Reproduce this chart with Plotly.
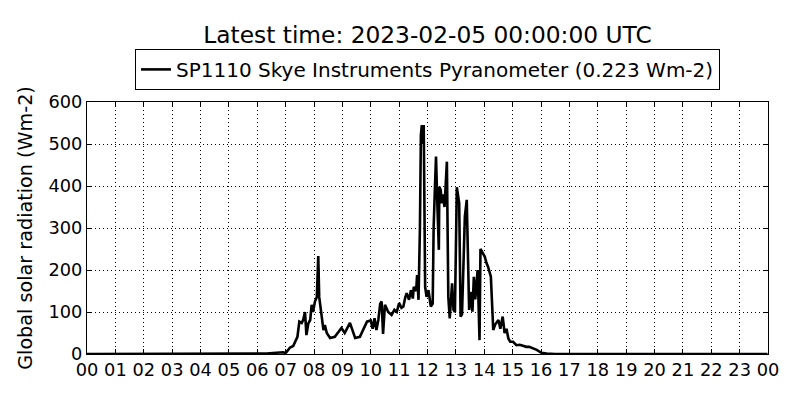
import pandas as pd
import plotly.graph_objects as go

day = "2023-02-04"
times = ["00:00", "03:00", "06:00", "06:20", "06:40", "06:55", "07:00", "07:05", "07:09", "07:16",
         "07:20", "07:25", "07:29", "07:34", "07:37", "07:41", "07:44", "07:48", "07:52", "07:55",
         "07:58", "08:02", "08:06", "08:09", "08:11", "08:15", "08:20", "08:23", "08:27", "08:34",
         "08:44", "08:58", "09:05", "09:16", "09:27", "09:37", "09:52", "10:00", "10:04", "10:08",
         "10:12", "10:16", "10:20", "10:23", "10:26", "10:30", "10:34", "10:37", "10:44", "10:50",
         "10:55", "11:00", "11:05", "11:09", "11:13", "11:16", "11:21", "11:25", "11:29", "11:31",
         "11:36", "11:38", "11:41", "11:44", "11:46", "11:48", "11:50", "11:52", "11:55", "11:58",
         "12:02", "12:07", "12:11", "12:13", "12:16", "12:18", "12:21", "12:24", "12:25", "12:28",
         "12:30", "12:33", "12:36", "12:39", "12:41", "12:44", "12:47", "12:52", "12:55", "12:58",
         "13:02", "13:07", "13:10", "13:13", "13:19", "13:23", "13:28", "13:31", "13:35", "13:38",
         "13:41", "13:46", "13:50", "13:52", "14:01", "14:05", "14:08", "14:14", "14:17", "14:19",
         "14:23", "14:30", "14:34", "14:39", "14:43", "14:47", "14:51", "14:55", "15:01", "15:08",
         "15:15", "15:29", "15:35", "15:51", "16:01", "16:12", "16:30", "23:59"]
values = [0, 0, 0, 1, 3, 4, 2, 8, 15, 19,
          30, 41, 77, 74, 81, 100, 45, 73, 81, 117,
          100, 125, 136, 233, 136, 105, 57, 69, 50, 38,
          41, 62, 50, 74, 38, 41, 77, 80, 60, 85,
          57, 81, 120, 125, 48, 117, 105, 100, 93, 105,
          100, 121, 110, 113, 135, 145, 129, 152, 132, 160,
          150, 188, 129, 300, 521, 545, 500, 545, 160, 136,
          152, 113, 120, 303, 406, 470, 351, 248, 398, 390,
          359, 380, 350, 400, 458, 136, 85, 168, 105, 100,
          397, 359, 89, 95, 327, 367, 105, 148, 101, 184,
          130, 200, 33, 250, 232, 216, 208, 184, 105, 57,
          70, 81, 60, 89, 50, 60, 37, 29, 29, 21,
          22, 17, 17, 10, 3, 1, 0, 0]
series_name = "SP1110 Skye Instruments Pyranometer (0.223 Wm-2)"
title_text = "Latest time: 2023-02-05 00:00:00 UTC"
y_ticks = [0, 100, 200, 300, 400, 500, 600]

x = pd.to_datetime([f"{day} {t}" for t in times])
hour_ticks = pd.date_range("2023-02-04 00:00", "2023-02-05 00:00", freq="h")

fig = go.Figure()
fig.add_trace(go.Scatter(x=x, y=values, mode="lines", name=series_name,
                         line=dict(color="black", width=2.6)))

font_family = "DejaVu Sans"
# page body adds an 8px offset, so the figure is 792x392 and margins are shifted
fig.update_layout(
    width=792, height=392,
    margin=dict(l=79, r=32, t=94, b=46),
    paper_bgcolor="white", plot_bgcolor="white",
    font=dict(family=font_family, size=17.5, color="black"),
    title=dict(text=title_text, xref="paper", x=0.5, xanchor="center", y=0.931, yanchor="middle",
               font=dict(size=23.3, family=font_family)),
    showlegend=True,
    legend=dict(x=0.5, xanchor="center", y=1.048, yanchor="bottom",
                bordercolor="black", borderwidth=1, bgcolor="white",
                font=dict(size=20, family=font_family)),
)
fig.update_xaxes(
    range=[hour_ticks[0], hour_ticks[-1]], tickvals=hour_ticks, tickformat="%H",
    ticks="inside", ticklen=5, tickcolor="black", showline=True, linecolor="black",
    linewidth=1, mirror="ticks", showgrid=True, gridcolor="black", griddash="1px,3px",
    gridwidth=1, zeroline=False, tickfont=dict(size=17.8), automargin=False,
)
fig.update_yaxes(
    range=[0, 600], tickvals=y_ticks,
    title=dict(text="Global solar radiation (Wm-2)", font=dict(size=19.2), standoff=10),
    ticks="inside", ticklen=5, tickcolor="black", showline=True, linecolor="black",
    linewidth=1, mirror="ticks", showgrid=True, gridcolor="black", griddash="1px,3px",
    gridwidth=1, zeroline=False, tickfont=dict(size=17.8), automargin=False,
)
fig.write_html("out.html")
